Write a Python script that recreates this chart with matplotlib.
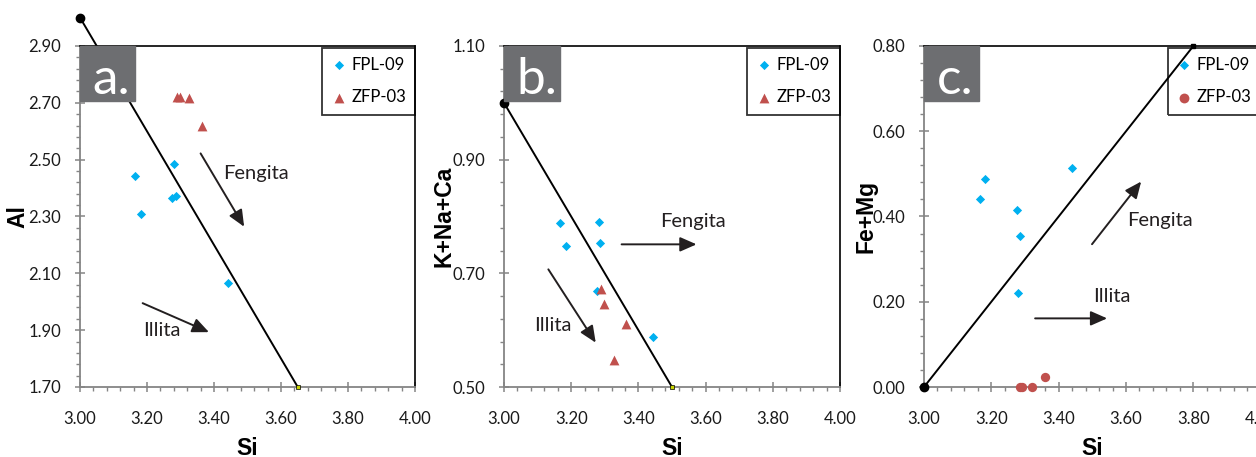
import matplotlib
matplotlib.use("Agg")
import matplotlib.pyplot as plt
from matplotlib.patches import Rectangle
from matplotlib.ticker import MultipleLocator, FormatStrFormatter

# ---- дані ----
fpl_si_a = [3.164, 3.182, 3.281, 3.275, 3.287, 3.442]
fpl_al = [2.443, 2.309, 2.485, 2.365, 2.372, 2.066]
zfp_si_a = [3.290, 3.299, 3.326, 3.363]
zfp_al = [2.720, 2.720, 2.717, 2.619]

fpl_si_b = [3.167, 3.184, 3.283, 3.287, 3.276, 3.444]
fpl_kna = [0.788, 0.748, 0.790, 0.754, 0.669, 0.588]
zfp_si_b = [3.289, 3.297, 3.364, 3.326]
zfp_kna = [0.673, 0.646, 0.610, 0.547]

fpl_si_c = [3.165, 3.181, 3.276, 3.284, 3.280, 3.440]
fpl_femg = [0.441, 0.488, 0.416, 0.354, 0.221, 0.513]
zfp_si_c = [3.284, 3.292, 3.322, 3.359]
zfp_femg = [0.000, 0.000, 0.000, 0.023]

# лінії розділу ілліт / фенгіт
line_a_si, line_a_al = [3.00, 3.65], [3.00, 1.70]
line_b_si, line_b_kna = [3.00, 3.50], [1.00, 0.50]
line_c_si, line_c_femg = [3.00, 3.80], [0.00, 0.80]

series_names = ["FPL-09", "ZFP-03"]

BLUE = "#00B0F0"
RED = "#C0504D"
GRAY = "#858585"
BOX = "#6D6E71"

plt.rcParams["font.family"] = ["Lato", "DejaVu Sans"]

fig = plt.figure(figsize=(12.56, 4.57), dpi=100)
W, H = 1256.0, 457.0


def make_axes(left_px, width_px):
    return fig.add_axes([left_px / W, (H - 387) / H, width_px / W, 341 / H])


def style_axes(ax, ylim, ylabel, ylabel_x):
    ax.set_xlim(3.0, 4.0)
    ax.set_ylim(*ylim)
    y0 = ylim[0]
    ax.xaxis.set_major_locator(MultipleLocator(0.2))
    ax.xaxis.set_minor_locator(MultipleLocator(0.04))
    ax.yaxis.set_major_locator(MultipleLocator(0.2, offset=round(y0 % 0.2, 4)))
    ax.yaxis.set_minor_locator(MultipleLocator(0.04, offset=round(y0 % 0.04, 4)))
    ax.xaxis.set_major_formatter(FormatStrFormatter("%.2f"))
    ax.yaxis.set_major_formatter(FormatStrFormatter("%.2f"))
    for s in ["left", "bottom"]:
        ax.spines[s].set_color(GRAY)
        ax.spines[s].set_linewidth(1.3)
    for s in ["top", "right"]:
        ax.spines[s].set_color("black")
        ax.spines[s].set_linewidth(1.2)
    ax.tick_params(which="major", direction="inout", length=7, width=1.1,
                   color=GRAY, labelsize=12, labelcolor="#1a1a1a")
    ax.tick_params(which="minor", direction="out", length=3, width=1.0, color=GRAY)
    ax.tick_params(axis="x", which="major", pad=14)
    ax.tick_params(axis="y", which="major", pad=10)
    ax.set_xlabel("Si", fontsize=16.5, fontweight="bold", family="Liberation Sans")
    ax.xaxis.set_label_coords(0.5, -0.18)
    ax.xaxis.label.set_va("center")
    ax.set_ylabel(ylabel, fontsize=16.5, fontweight="bold", family="Liberation Sans")
    ax.yaxis.set_label_coords(ylabel_x, 0.5)
    ax.yaxis.label.set_va("center")


def panel_tag(ax, letter, w_px):
    ax.add_patch(Rectangle((0, 1 - 55 / 341), w_px / 336, 55 / 341,
                           transform=ax.transAxes, color=BOX, zorder=4, clip_on=False))
    ax.text(12.5 / 336, 1 - 48 / 341, letter, transform=ax.transAxes, color="white",
            fontsize=37, va="baseline", ha="left", zorder=5)


def arrow(ax, x0, y0, x1, y1):
    ax.annotate("", xy=(x1, y1), xytext=(x0, y0),
                arrowprops=dict(arrowstyle="-|>,head_length=0.5,head_width=0.22",
                                color="#231f20", lw=1.4, shrinkA=0, shrinkB=0,
                                mutation_scale=20))


def add_legend(ax, second_marker):
    h1 = ax.scatter([], [], marker="D", s=22, color=BLUE, linewidths=0)
    h2 = ax.scatter([], [], marker=second_marker, s=50, color=RED, linewidths=0)
    leg = ax.legend([h1, h2], series_names, loc="upper right",
                    bbox_to_anchor=(1.0, 1 - 1.5 / 341), fontsize=12,
                    frameon=True, fancybox=False, edgecolor="black",
                    facecolor="none", framealpha=None, handlelength=0.9,
                    handletextpad=0.3, labelspacing=1.0, borderpad=0.55,
                    borderaxespad=0)
    leg.get_frame().set_linewidth(1.3)


# ---- a ----
ax_a = make_axes(80, 335)
style_axes(ax_a, (1.70, 2.90), "Al", -0.185)
ax_a.plot(line_a_si, line_a_al, color="black", lw=1.4, clip_on=False, zorder=3)
ax_a.plot(line_a_si[:1], line_a_al[:1], "o", color="black", ms=6, clip_on=False, zorder=3)
ax_a.plot(line_a_si[1:], line_a_al[1:], "s", color="#c8d400", mec="black", ms=2.5,
          mew=0.5, clip_on=False, zorder=3)
ax_a.scatter(fpl_si_a, fpl_al, marker="D", s=22, color=BLUE, linewidths=0, zorder=3)
ax_a.scatter(zfp_si_a, zfp_al, marker="^", s=50, color=RED, linewidths=0, zorder=3)
arrow(ax_a, 3.360, 2.522, 3.490, 2.264)
arrow(ax_a, 3.187, 1.995, 3.385, 1.893)
ax_a.text(3.427, 2.45, "Fengita", fontsize=14.5, va="center", color="#231f20")
ax_a.text(3.188, 1.90, "Illita", fontsize=14.5, va="center", color="#231f20")
panel_tag(ax_a, "a.", 55)
add_legend(ax_a, "^")

# ---- b ----
ax_b = make_axes(504, 336)
style_axes(ax_b, (0.50, 1.10), "K+Na+Ca", -0.179)
ax_b.plot(line_b_si, line_b_kna, color="black", lw=1.4, clip_on=False, zorder=3)
ax_b.plot(line_b_si[:1], line_b_kna[:1], "o", color="black", ms=6, clip_on=False, zorder=3)
ax_b.plot(line_b_si[1:], line_b_kna[1:], "s", color="#c8d400", mec="black", ms=2.5,
          mew=0.5, clip_on=False, zorder=3)
ax_b.scatter(fpl_si_b, fpl_kna, marker="D", s=22, color=BLUE, linewidths=0, zorder=3)
ax_b.scatter(zfp_si_b, zfp_kna, marker="^", s=50, color=RED, linewidths=0, zorder=3)
arrow(ax_b, 3.350, 0.751, 3.573, 0.751)
arrow(ax_b, 3.132, 0.707, 3.273, 0.578)
ax_b.text(3.464, 0.792, "Fengita", fontsize=14.5, va="center", color="#231f20")
ax_b.text(3.090, 0.608, "Illita", fontsize=14.5, va="center", color="#231f20")
panel_tag(ax_b, "b.", 56)
add_legend(ax_b, "^")

# ---- c ----
ax_c = make_axes(924, 336.7)
style_axes(ax_c, (0.00, 0.80), "Fe+Mg", -0.172)
ax_c.plot(line_c_si, line_c_femg, color="black", lw=1.4, clip_on=False, zorder=3)
ax_c.plot(line_c_si[:1], line_c_femg[:1], "o", color="black", ms=6, clip_on=False, zorder=3)
ax_c.plot(line_c_si[1:], line_c_femg[1:], "s", color="black", ms=3, clip_on=False, zorder=3)
ax_c.scatter(fpl_si_c, fpl_femg, marker="D", s=22, color=BLUE, linewidths=0, zorder=3)
ax_c.scatter(zfp_si_c, zfp_femg, marker="o", s=45, color=RED, linewidths=0, zorder=3,
             clip_on=False)
arrow(ax_c, 3.499, 0.335, 3.645, 0.482)
arrow(ax_c, 3.330, 0.161, 3.544, 0.161)
ax_c.text(3.602, 0.390, "Fengita", fontsize=14.5, va="center", color="#231f20")
ax_c.text(3.501, 0.212, "Illita", fontsize=14.5, va="center", color="#231f20")
panel_tag(ax_c, "c.", 55)
add_legend(ax_c, "o")

fig.savefig("out.png", dpi=100)
